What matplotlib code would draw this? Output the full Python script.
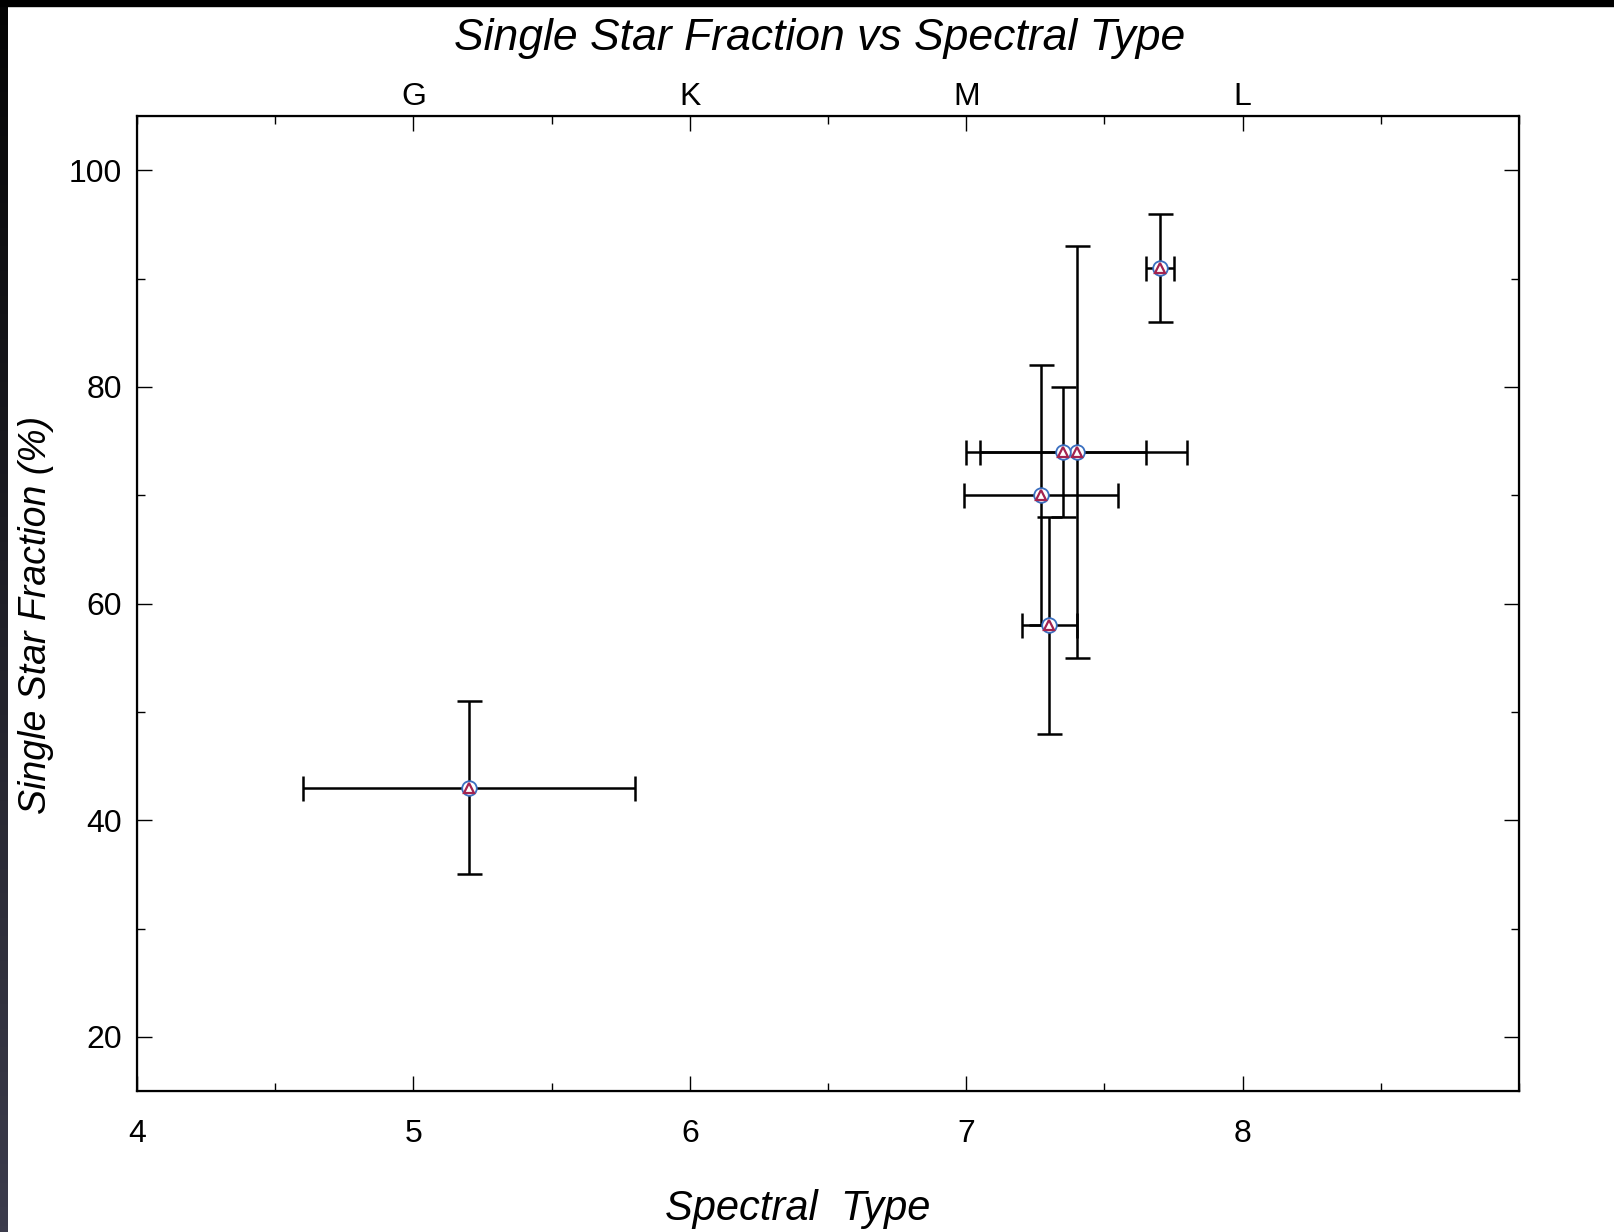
import numpy as np
import matplotlib
matplotlib.use("Agg")
import matplotlib.pyplot as plt
from matplotlib.ticker import MultipleLocator

plt.rcParams['font.family'] = ['Liberation Sans', 'DejaVu Sans']

# spectral type (numeric) and single star fraction (%)
spec_type = [5.2, 7.7, 7.4, 7.35, 7.27, 7.3]
spec_err = [0.6, 0.05, 0.4, 0.3, 0.28, 0.1]
single_frac = [43, 91, 74, 74, 70, 58]
frac_err = [8, 5, 19, 6, 12, 10]

top_ticks = [5, 6, 7, 8]
top_labels = ['G', 'K', 'M', 'L']

fig = plt.figure(figsize=(16.14, 12.32), dpi=100)
ax = fig.add_axes([0.0849, 0.1144, 0.8563, 0.7914])

ax.errorbar(spec_type, single_frac, xerr=spec_err, yerr=frac_err, fmt='none',
            ecolor='black', elinewidth=1.8, capsize=9, capthick=1.8, zorder=2)
ax.plot(spec_type, single_frac, 'o', ms=10.5, mfc='white', mec='#3a6fc0',
        mew=1.3, zorder=3)
ax.plot(spec_type, single_frac, '^', ms=7, mfc='white', mec='#a3234f',
        mew=1.6, zorder=4)

ax.set_xlim(4, 9)
ax.set_ylim(15, 105)
ax.xaxis.set_major_locator(MultipleLocator(1))
ax.xaxis.set_minor_locator(MultipleLocator(0.5))
ax.yaxis.set_major_locator(MultipleLocator(20))
ax.yaxis.set_minor_locator(MultipleLocator(10))
ax.set_xticks([4, 5, 6, 7, 8])
ax.tick_params(which='both', direction='in', right=True, top=False, width=1.0)
ax.tick_params(which='major', length=11)
ax.tick_params(which='minor', length=5.5)
ax.tick_params(axis='x', labelsize=23, pad=20)
ax.tick_params(axis='y', labelsize=23, pad=11)
for s in ax.spines.values():
    s.set_linewidth(1.6)

ax2 = ax.twiny()
ax2.set_xlim(ax.get_xlim())
ax2.set_xticks(top_ticks)
ax2.set_xticklabels(top_labels)
ax2.xaxis.set_minor_locator(MultipleLocator(0.5))
ax2.tick_params(which='both', direction='in', width=1.0, labelsize=23, pad=3)
ax2.tick_params(which='major', length=11)
ax2.tick_params(which='minor', length=5.5)

fig.text(775 / 1568, 1 - 1175 / 1197, 'Spectral  Type', fontsize=30,
         style='italic', ha='center', va='center')
fig.text(35 / 1568, 1 - 597 / 1197, 'Single Star Fraction (%)', fontsize=27,
         style='italic', ha='center', va='center', rotation=90)
fig.text(796 / 1568, 1 - 37 / 1197, 'Single Star Fraction vs Spectral Type', fontsize=32,
         style='italic', ha='center', va='center')

# dark screenshot edges
fig.patches.append(plt.Rectangle((0, 1 - 6 / 1232), 1, 6 / 1232, transform=fig.transFigure,
                                 color='black', zorder=10))
edge = fig.add_axes([0, 0, 8 / 1614, 1])
edge.imshow(np.linspace(0, 1, 200).reshape(-1, 1), aspect='auto',
            cmap=matplotlib.colors.LinearSegmentedColormap.from_list('e', ['#050505', '#3c3c4c']))
edge.axis('off')

fig.savefig('out.png', dpi=100)
